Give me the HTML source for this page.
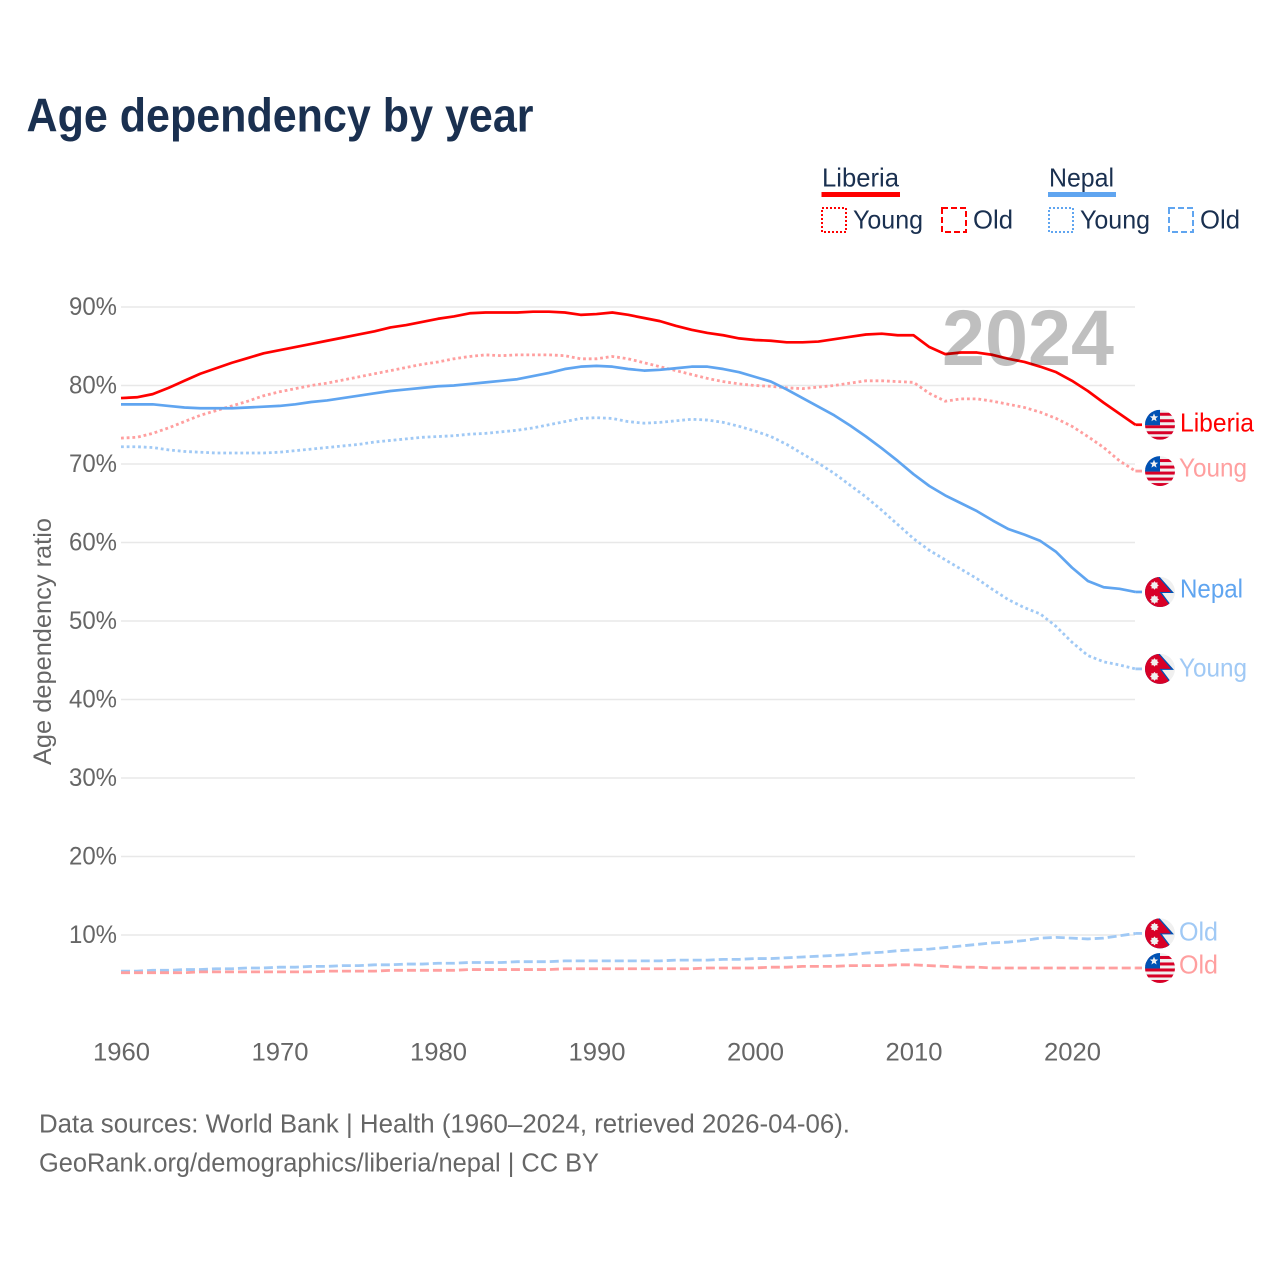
<!DOCTYPE html>
<html lang="en">
<head>
<meta charset="utf-8">
<title>Age dependency by year</title>
<style>
html,body{margin:0;padding:0;background:#fff;}
svg{display:block;font-family:"Liberation Sans",sans-serif;}
</style>
</head>
<body>
<svg id="chart" xmlns="http://www.w3.org/2000/svg" width="1280" height="1280" viewBox="0 0 1280 1280">
  <rect width="1280" height="1280" fill="#fff"/>
  <text x="26.5" y="131.5" font-size="47" font-weight="700" fill="#1a3050" textLength="507" lengthAdjust="spacingAndGlyphs">Age dependency by year</text>

  <g font-size="26" fill="#1a3050">
    <text x="822" y="186.5" textLength="77" lengthAdjust="spacingAndGlyphs">Liberia</text>
    <rect x="821.5" y="192" width="78.5" height="5" fill="#ff0000"/>
    <rect x="822" y="208" width="24" height="24" fill="none" stroke="#ff0000" stroke-width="2" stroke-dasharray="2 2"/>
    <text x="853" y="228.5" textLength="70" lengthAdjust="spacingAndGlyphs">Young</text>
    <rect x="942" y="208" width="24" height="24" fill="none" stroke="#ff0000" stroke-width="2" stroke-dasharray="6 3"/>
    <text x="973" y="228.5" textLength="40" lengthAdjust="spacingAndGlyphs">Old</text>

    <text x="1049" y="186.5" textLength="65" lengthAdjust="spacingAndGlyphs">Nepal</text>
    <rect x="1048" y="192" width="68" height="5" fill="#60a5f0"/>
    <rect x="1049" y="208" width="24" height="24" fill="none" stroke="#60a5f0" stroke-width="2" stroke-dasharray="2 2"/>
    <text x="1080" y="228.5" textLength="70" lengthAdjust="spacingAndGlyphs">Young</text>
    <rect x="1169" y="208" width="24" height="24" fill="none" stroke="#60a5f0" stroke-width="2" stroke-dasharray="6 3"/>
    <text x="1200" y="228.5" textLength="40" lengthAdjust="spacingAndGlyphs">Old</text>
  </g>

  <g id="grid"></g>
  <g id="yticks"></g>
  <g id="xticks"></g>
  <text transform="translate(51,765) rotate(-90)" font-size="25" fill="#666" textLength="247" lengthAdjust="spacingAndGlyphs">Age dependency ratio</text>
  <g id="series"></g>
  <g id="ends"></g>
  <text x="942" y="365" font-size="79" font-weight="700" fill="#000" fill-opacity="0.25" textLength="172" lengthAdjust="spacingAndGlyphs">2024</text>

  <text x="39" y="1132.5" font-size="25.5" fill="#666" textLength="811" lengthAdjust="spacingAndGlyphs">Data sources: World Bank | Health (1960–2024, retrieved 2026-04-06).</text>
  <text x="39" y="1171.5" font-size="25.5" fill="#666" textLength="560" lengthAdjust="spacingAndGlyphs">GeoRank.org/demographics/liberia/nepal | CC BY</text>
</svg>
<script>
const firstYear = 1960;
const xTickLabels = [1960, 1970, 1980, 1990, 2000, 2010, 2020];
const yTickValues = [10, 20, 30, 40, 50, 60, 70, 80, 90];
const liberiaTotal = [
  78.4,78.5,78.9,79.7,80.6,81.5,82.2,82.9,83.5,84.1,
  84.5,84.9,85.3,85.7,86.1,86.5,86.9,87.4,87.7,88.1,
  88.5,88.8,89.2,89.3,89.3,89.3,89.4,89.4,89.3,89.0,
  89.1,89.3,89.0,88.6,88.2,87.6,87.1,86.7,86.4,86.0,
  85.8,85.7,85.5,85.5,85.6,85.9,86.2,86.5,86.6,86.4,
  86.4,84.9,84.0,84.2,84.2,83.9,83.4,83.0,82.4,81.7,
  80.6,79.3,77.8,76.4,75.0];
const liberiaYoung = [
  73.3,73.4,73.9,74.6,75.4,76.2,76.8,77.4,78.0,78.7,
  79.2,79.6,80.0,80.3,80.7,81.1,81.5,81.9,82.3,82.7,
  83.0,83.4,83.7,83.9,83.8,83.9,83.9,83.9,83.8,83.4,
  83.4,83.7,83.4,82.9,82.4,81.9,81.4,80.9,80.5,80.2,
  80.0,79.9,79.7,79.6,79.8,80.0,80.3,80.6,80.6,80.5,
  80.4,79.0,78.0,78.3,78.3,78.0,77.6,77.2,76.6,75.8,
  74.8,73.5,72.1,70.4,69.1];
const liberiaOld = [
  5.2,5.2,5.2,5.2,5.2,5.3,5.3,5.3,5.3,5.3,
  5.3,5.3,5.3,5.4,5.4,5.4,5.4,5.5,5.5,5.5,
  5.5,5.5,5.6,5.6,5.6,5.6,5.6,5.6,5.7,5.7,
  5.7,5.7,5.7,5.7,5.7,5.7,5.7,5.8,5.8,5.8,
  5.8,5.9,5.9,6.0,6.0,6.0,6.1,6.1,6.1,6.2,
  6.2,6.1,6.0,5.9,5.9,5.8,5.8,5.8,5.8,5.8,
  5.8,5.8,5.8,5.8,5.8];
const nepalTotal = [
  77.6,77.6,77.6,77.4,77.2,77.1,77.1,77.1,77.2,77.3,
  77.4,77.6,77.9,78.1,78.4,78.7,79.0,79.3,79.5,79.7,
  79.9,80.0,80.2,80.4,80.6,80.8,81.2,81.6,82.1,82.4,
  82.5,82.4,82.1,81.9,82.0,82.2,82.4,82.4,82.1,81.7,
  81.1,80.5,79.5,78.4,77.3,76.2,74.9,73.5,72.0,70.4,
  68.7,67.2,66.0,65.0,64.0,62.8,61.7,61.0,60.2,58.8,
  56.8,55.1,54.3,54.1,53.7];
const nepalYoung = [
  72.2,72.2,72.1,71.8,71.6,71.5,71.4,71.4,71.4,71.4,
  71.5,71.7,71.9,72.1,72.3,72.5,72.8,73.0,73.2,73.4,
  73.5,73.6,73.8,73.9,74.1,74.3,74.6,75.0,75.4,75.8,
  75.9,75.8,75.4,75.2,75.3,75.5,75.7,75.6,75.3,74.8,
  74.2,73.5,72.5,71.3,70.1,68.8,67.3,65.8,64.1,62.3,
  60.5,59.0,57.8,56.6,55.4,54.0,52.7,51.7,50.9,49.3,
  47.3,45.6,44.8,44.4,43.9];
const nepalOld = [
  5.4,5.4,5.5,5.5,5.6,5.6,5.7,5.7,5.8,5.8,
  5.9,5.9,6.0,6.0,6.1,6.1,6.2,6.2,6.3,6.3,
  6.4,6.4,6.5,6.5,6.5,6.6,6.6,6.6,6.7,6.7,
  6.7,6.7,6.7,6.7,6.7,6.8,6.8,6.8,6.9,6.9,
  7.0,7.0,7.1,7.2,7.3,7.4,7.5,7.7,7.8,8.0,
  8.1,8.2,8.4,8.6,8.8,9.0,9.1,9.3,9.6,9.7,
  9.6,9.5,9.6,9.9,10.2];

const NS = 'http://www.w3.org/2000/svg';
function x(year){ return 121 + (year - 1960) * 15.85; }
function y(value){ return 1013.5 - value * 7.85; }
function make(parent, tag, attrs){
  const e = document.createElementNS(NS, tag);
  for (const k in attrs) e.setAttribute(k, attrs[k]);
  parent.appendChild(e);
  return e;
}

const grid = document.getElementById('grid');
const yticks = document.getElementById('yticks');
const xticks = document.getElementById('xticks');
yTickValues.forEach(function(v){
  const line = make(grid, 'line', {x1: 121, x2: 1135, y1: y(v), y2: y(v), stroke: '#e8e8e8', 'stroke-width': 1.5});
  
  
  const t = make(yticks, 'text', {x: 117, y: y(v) + 8.2, 'text-anchor': 'end', 'font-size': 25, fill: '#666', textLength: 48, lengthAdjust: 'spacingAndGlyphs'});
  t.textContent = v + '%';
  
  
});
xTickLabels.forEach(function(v){
  const t = make(xticks, 'text', {x: x(v) + 0.5, y: 1060.5, 'text-anchor': 'middle', 'font-size': 25, fill: '#666', textLength: 57, lengthAdjust: 'spacingAndGlyphs'});
  t.textContent = v;
  
  
});

const RED = '#ff0000', BLUE = '#60a5f0', RED_L = '#ff9f9f', BLUE_L = '#a0c9f5';
const seriesLayer = document.getElementById('series');
const endLayer = document.getElementById('ends');

function drawLine(values, color, dash, width, name){
  const pts = values.map(function(v, i){ return x(firstYear + i).toFixed(2) + ',' + y(v).toFixed(2); }).join(' ');
  const attrs = {points: pts, fill: 'none', stroke: color, 'stroke-width': width, 'stroke-linejoin': 'round'};
  if (dash) attrs['stroke-dasharray'] = dash;
  const p = make(seriesLayer, 'polyline', attrs);
  
  
  const last = values[values.length - 1];
  const lead = make(seriesLayer, 'line', {x1: x(firstYear + values.length - 1), x2: 1142, y1: y(last), y2: y(last), stroke: color, 'stroke-width': width});
  
  
}

function burst(parent, cx, cy, rOut, rIn, n, fill){
  const pts = [];
  for (let i = 0; i < n * 2; i++){
    const r = i % 2 ? rIn : rOut, a = -Math.PI / 2 + i * Math.PI / n;
    pts.push((cx + r * Math.cos(a)).toFixed(2) + ',' + (cy + r * Math.sin(a)).toFixed(2));
  }
  make(parent, 'polygon', {points: pts.join(' '), fill: fill});
}

let clipCount = 0;
function flagLiberia(g, cx, cy){
  const id = 'fc' + (clipCount++);
  const cp = make(g, 'clipPath', {id: id});
  make(cp, 'circle', {cx: cx, cy: cy, r: 15});
  const f = make(g, 'g', {'clip-path': 'url(#' + id + ')'});
  make(f, 'rect', {x: cx - 15, y: cy - 15, width: 30, height: 30, fill: '#f0f0f0'});
  [-12, -5.5, 0.5, 6.5, 12].forEach(function(dy){
    make(f, 'rect', {x: cx - 15, y: cy + dy, width: 30, height: 3, fill: '#d80027'});
  });
  make(f, 'rect', {x: cx - 15, y: cy - 15, width: 15, height: 15.5, fill: '#0052b4'});
  burst(f, cx - 6, cy - 7, 4.4, 1.9, 5, '#f0f0f0');
}
function flagNepal(g, cx, cy){
  const id = 'fc' + (clipCount++);
  const cp = make(g, 'clipPath', {id: id});
  make(cp, 'circle', {cx: cx, cy: cy, r: 15});
  const f = make(g, 'g', {'clip-path': 'url(#' + id + ')'});
  make(f, 'rect', {x: cx - 15, y: cy - 15, width: 30, height: 30, fill: '#f0f0f0'});
  function shape(list, fill){
    make(f, 'polygon', {points: list.map(function(p){ return (cx + p[0]) + ',' + (cy + p[1]); }).join(' '), fill: fill});
  }
  shape([[-16,-17],[-2,-17],[14,1],[2,1],[11,13],[11,17],[-16,17]], '#0052b4');
  shape([[-16,-17],[-3.5,-17],[11,0],[-0.5,0],[9.5,13],[9.5,17],[-16,17]], '#d80027');
  burst(f, cx - 5.5, cy - 6.5, 4.3, 3, 8, '#f0f0f0');
  burst(f, cx - 5.5, cy + 7.5, 4.5, 3.2, 8, '#f0f0f0');
}

function drawEnd(values, country, label, color, labelX, labelW, labelDy, name){
  const cy = y(values[values.length - 1]);
  const g = make(endLayer, 'g', {});
  
  
  if (country === 'liberia') flagLiberia(g, 1160, cy); else flagNepal(g, 1160, cy);
  const t = make(g, 'text', {x: labelX, y: cy + labelDy, 'font-size': 26, fill: color, textLength: labelW, lengthAdjust: 'spacingAndGlyphs'});
  t.textContent = label;
}

drawLine(nepalOld, BLUE_L, '9 4', 2.8, 'line-nepal-old');
drawLine(liberiaOld, RED_L, '9 4', 2.8, 'line-liberia-old');
drawLine(nepalYoung, BLUE_L, '2.8 2.9', 2.8, 'line-nepal-young');
drawLine(liberiaYoung, RED_L, '2.8 2.9', 2.8, 'line-liberia-young');
drawLine(nepalTotal, BLUE, null, 2.7, 'line-nepal-total');
drawLine(liberiaTotal, RED, null, 2.7, 'line-liberia-total');

drawEnd(liberiaTotal, 'liberia', 'Liberia', RED, 1180, 74, 6.8, 'end-label-liberia-total');
drawEnd(liberiaYoung, 'liberia', 'Young', RED_L, 1179, 68, 5.2, 'end-label-liberia-young');
drawEnd(nepalTotal, 'nepal', 'Nepal', BLUE, 1180, 63, 5.7, 'end-label-nepal-total');
drawEnd(nepalYoung, 'nepal', 'Young', BLUE_L, 1179, 68, 7.6, 'end-label-nepal-young');
drawEnd(nepalOld, 'nepal', 'Old', BLUE_L, 1179, 39, 7.3, 'end-label-nepal-old');
drawEnd(liberiaOld, 'liberia', 'Old', RED_L, 1179, 39, 5.3, 'end-label-liberia-old');
</script>
</body>
</html>
